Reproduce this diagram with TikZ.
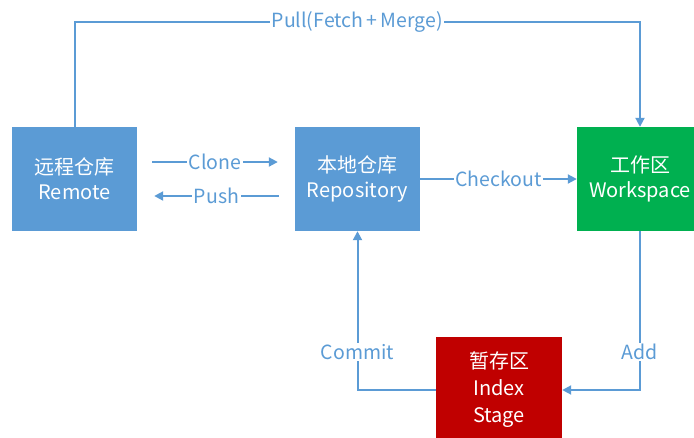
\documentclass[tikz,border=0pt]{standalone}
\usepackage{fontspec}
\setmainfont{Noto Sans CJK SC}
\usetikzlibrary{arrows.meta,calc}
\definecolor{boxblue}{HTML}{5B9BD5}
\definecolor{lineblue}{HTML}{5B9BD5}
\definecolor{boxgreen}{HTML}{00B050}
\definecolor{boxred}{HTML}{C00000}
\tikzset{
  box/.style={draw=none, text=white, align=center, minimum width=125pt, minimum height=104pt,
    inner sep=0pt, font=\fontsize{20}{25}\selectfont},
  conn/.style={draw=lineblue, line width=2pt, -{Triangle[length=9pt,width=9pt]}},
  lbl/.style={fill=white, text=lineblue, inner sep=1.5pt, font=\fontsize{19.5}{21}\selectfont}
}
\begin{document}
\begin{tikzpicture}[x=1pt,y=-1pt]
\useasboundingbox (0,0) rectangle (694,437);
\clip (0,0) rectangle (694,437);
\node[box, fill=boxblue] (remote) at (74.5,179) {远程仓库\\Remote};
\node[box, fill=boxblue] (repo) at (357.5,179) {本地仓库\\Repository};
\node[box, fill=boxgreen, minimum width=126pt] (work) at (640,179) {工作区\\Workspace};
\node[box, fill=boxred, minimum width=126pt, minimum height=106pt, font=\fontsize{20}{27}\selectfont] (index) at (499,390) {暂存区\\Index\\Stage};
% Pull
\draw[conn] (remote.north) -- ++(0,-105) -| node[lbl, pos=0.25] {Pull(Fetch{\,}+{\,}Merge)} (work.north);
% Clone / Push
\draw[conn] ($(remote.east)+(15,-17)$) -- node[lbl] {Clone} ($(repo.west)+(-17,-17)$);
\draw[conn] ($(repo.west)+(-16,17)$) -- node[lbl] {Push} ($(remote.east)+(17,17)$);
% Checkout
\draw[conn] (repo.east) -- node[lbl] {Checkout} (work.west);
% Add
\draw[conn] (work.south) |- node[lbl, pos=0.38] {Add} (index.east);
% Commit
\draw[conn] (index.west) -| node[lbl, pos=0.62] {Commit} (repo.south);
\end{tikzpicture}
\end{document}
